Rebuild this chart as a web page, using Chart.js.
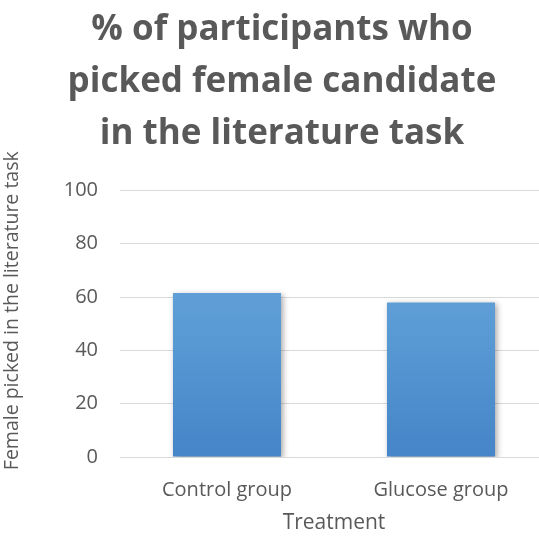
<!DOCTYPE html>
<html>
<head>
<meta charset="utf-8">
<script src="https://cdn.jsdelivr.net/npm/chart.js@4"></script>
<style>
  html, body { margin: 0; padding: 0; background: #fff; overflow: hidden; }
  #wrap { width: 548px; height: 536px; }
</style>
</head>
<body>
<div id="wrap"><canvas id="grafico"></canvas></div>
<script>
// datos del gráfico
const grupos = ['Control group', 'Glucose group'];
const porcentajes = [61.5, 58];
const marcasY = [0, 20, 40, 60, 80, 100];
const titulo = ['% of participants who', 'picked female candidate', 'in the literature task'];
const tituloY = 'Female picked in the literature task';

const gris = '#595959';

// sombra suave detrás de las barras
const sombraBarras = {
  id: 'sombraBarras',
  beforeDatasetsDraw(chart) {
    const ctx = chart.ctx;
    ctx.save();
    ctx.shadowColor = 'rgba(0,0,0,0.35)';
    ctx.shadowBlur = 6;
    ctx.shadowOffsetX = 2;
    ctx.shadowOffsetY = 2;
  },
  afterDatasetsDraw(chart) {
    chart.ctx.restore();
  }
};

// título del eje Y, algo por encima del centro del área
const tituloEjeY = {
  id: 'tituloEjeY',
  afterDraw(chart) {
    const ctx = chart.ctx;
    const a = chart.chartArea;
    ctx.save();
    ctx.translate(12, (a.top + a.bottom) / 2 - 13);
    ctx.rotate(-Math.PI / 2);
    ctx.font = '19.5px "Open Sans"';
    ctx.fillStyle = gris;
    ctx.textAlign = 'center';
    ctx.textBaseline = 'middle';
    ctx.fillText(tituloY, 0, 0);
    ctx.restore();
  }
};

function degradado(context) {
  const area = context.chart.chartArea;
  if (!area) return '#5b9bd5';
  const g = context.chart.ctx.createLinearGradient(0, area.top, 0, area.bottom);
  g.addColorStop(0, '#72a8dd');
  g.addColorStop(0.5, '#5b9bd5');
  g.addColorStop(1, '#4585c8');
  return g;
}

new Chart(document.getElementById('grafico'), {
  type: 'bar',
  data: {
    labels: grupos,
    datasets: [{
      data: porcentajes,
      backgroundColor: degradado,
      borderWidth: 0,
      barPercentage: 0.505,
      categoryPercentage: 1
    }]
  },
  options: {
    responsive: true,
    maintainAspectRatio: false,
    animation: false,
    layout: { padding: { left: 16, right: 0, top: 0, bottom: 0 } },
    plugins: {
      legend: { display: false },
      tooltip: { enabled: false },
      title: {
        display: true,
        text: titulo,
        color: gris,
        font: { family: 'Open Sans', size: 35, weight: 'bold', lineHeight: 1.49 },
        padding: { top: 4, bottom: 30 }
      }
    },
    scales: {
      x: {
        afterFit(scale) { scale.height = 79; },
        grid: { display: false },
        border: { color: '#d9d9d9' },
        ticks: { color: gris, font: { family: 'Open Sans', size: 20 }, padding: 13 },
        title: {
          display: true, text: 'Treatment', color: gris,
          font: { family: 'Open Sans', size: 21 }, padding: { top: 0, bottom: 0 }
        }
      },
      y: {
        min: 0, max: 100,
        afterBuildTicks(scale) { scale.ticks = marcasY.map(v => ({ value: v })); },
        afterFit(scale) { scale.width = 104; },
        grid: { color: '#d9d9d9', drawTicks: false },
        border: { display: false },
        ticks: { color: gris, font: { family: 'Open Sans', size: 20 }, padding: 22 }
      }
    }
  },
  plugins: [sombraBarras, tituloEjeY]
});
</script>
</body>
</html>
